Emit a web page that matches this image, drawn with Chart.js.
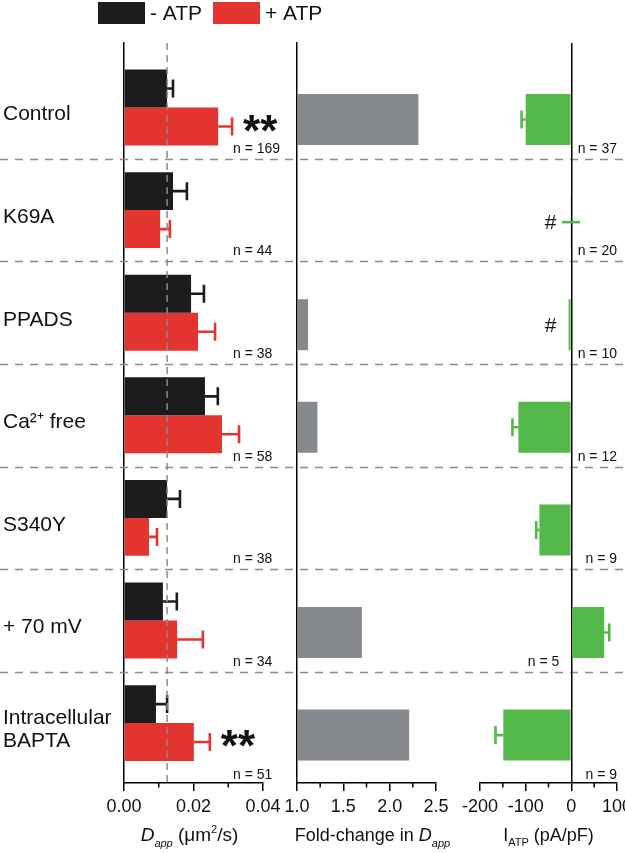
<!DOCTYPE html>
<html>
<head>
<meta charset="utf-8">
<script src="https://cdn.jsdelivr.net/npm/chart.js@4.4.0/dist/chart.umd.min.js"></script>
<style>
  html, body { margin: 0; padding: 0; background: #fff; }
  #wrap { position: relative; width: 625px; height: 853px; }
  #wrap canvas { position: absolute; left: 0; top: 0; }
</style>
</head>
<body>
<div id="wrap">
  <canvas id="dapp" width="625" height="853"></canvas>
  <canvas id="fold" width="625" height="853"></canvas>
  <canvas id="iatp" width="625" height="853"></canvas>
</div>
<script>
// --- data ---
var categories = ['Control', 'K69A', 'PPADS', 'Ca\u00B2\u207A free', 'S340Y', '+ 70 mV', ['Intracellular', 'BAPTA']];
var minusATP = [0.0124, 0.0141, 0.0193, 0.0233, 0.0124, 0.0112, 0.0092];
var minusErr = [0.0017, 0.0040, 0.0037, 0.0037, 0.0037, 0.0040, 0.0032];
var plusATP  = [0.0271, 0.0104, 0.0213, 0.0282, 0.0072, 0.0153, 0.0201];
var plusErr  = [0.0040, 0.0028, 0.0049, 0.0049, 0.0023, 0.0074, 0.0046];
var foldChange = [2.31, null, 1.12, 1.22, null, 1.70, 2.21];
var iATP    = [-100, -1, -6, -116, -70, 72, -149];
var iATPErr = [9, 20, 0, 13, 7, 11, 17];
var nDapp = ['n = 169', 'n = 44', 'n = 38', 'n = 58', 'n = 38', 'n = 34', 'n = 51'];
var nIatp = ['n = 37', 'n = 20', 'n = 10', 'n = 12', 'n = 9', 'n = 5', 'n = 9'];
var starsDapp = ['**', '', '', '', '', '', '**'];
var marksIatp = ['', '#', '#', '', '', '', ''];
var dappTicks = [0, 0.01, 0.02, 0.03, 0.04];
var foldTicks = [1, 1.25, 1.5, 1.75, 2, 2.25, 2.5];
var iatpTicks = [-200, -150, -100, -50, 0, 50, 100];

var FONT = "'Liberation Sans', Arial, Helvetica, sans-serif";
Chart.defaults.font.family = FONT;
Chart.defaults.color = '#111';

function pts(vals) {
  return vals.map(function (v, i) { return { x: v, y: i }; });
}

// shared vertical (category) axis: linear so the rows line up on all three canvases
function rowAxis(showLabels, showBorder) {
  return {
    type: 'linear', reverse: true, offset: false, min: -0.629, max: 6.584,
    afterBuildTicks: function (s) { s.ticks = categories.map(function (c, i) { return { value: i }; }); },
    afterFit: function (s) { s.width = showLabels ? 121 : 0; s.paddingTop = 0; s.paddingBottom = 0; },
    ticks: {
      display: showLabels, autoSkip: false, crossAlign: 'far', labelOffset: 7, padding: 0,
      font: { size: 21, lineHeight: 1.1 }, color: '#111',
      callback: function (v) { return categories[v]; }
    },
    grid: { display: false, offset: false },
    border: { display: showBorder, color: '#000', width: 1.5 }
  };
}

function valueAxis(min, max, tickVals, digits, zeroLine) {
  return {
    min: min, max: max,
    afterBuildTicks: function (s) { s.ticks = tickVals.map(function (v) { return { value: v }; }); },
    afterFit: function (s) { s.height = 70; s.paddingLeft = 0; s.paddingRight = 0; },
    ticks: {
      autoSkip: false, maxRotation: 0, padding: 5, font: { size: 18 }, color: '#111',
      callback: function (v, i) { return i % 2 === 0 ? v.toFixed(digits) : ''; }
    },
    grid: {
      drawOnChartArea: !!zeroLine, tickLength: 8, tickWidth: 1.5, lineWidth: 1.5,
      color: function (c) { return zeroLine && c.tick && c.tick.value === 0 ? '#000' : 'rgba(0,0,0,0)'; },
      tickColor: function (c) { return c.index % 2 === 0 ? '#000' : 'rgba(0,0,0,0)'; }
    },
    border: { color: '#000', width: 1.5 }
  };
}

function minorTicks(chart) {
  var ctx = chart.ctx, xs = chart.scales.x, b = chart.chartArea.bottom;
  ctx.save();
  ctx.strokeStyle = '#000'; ctx.lineWidth = 1.5;
  xs.ticks.forEach(function (t, i) {
    if (i % 2 === 0) return;
    var x = xs.getPixelForValue(t.value);
    ctx.beginPath(); ctx.moveTo(x, b); ctx.lineTo(x, b + 4.5); ctx.stroke();
  });
  ctx.restore();
}

function errorBars(chart, di, errs, color) {
  var ctx = chart.ctx, xs = chart.scales.x;
  var meta = chart.getDatasetMeta(di);
  var vals = chart.data.datasets[di].data;
  ctx.save();
  ctx.strokeStyle = color; ctx.lineWidth = 2.6;
  meta.data.forEach(function (bar, i) {
    var v = vals[i].x, e = errs[i];
    if (v === null || !e) return;
    var sign = v < 0 ? -1 : 1;
    var x1 = xs.getPixelForValue(v + sign * e);
    var x0 = xs.getPixelForValue(v), cap = true;
    if (e > Math.abs(v)) { x0 = xs.getPixelForValue(v - sign * e); cap = false; }
    ctx.beginPath();
    ctx.moveTo(x0, bar.y); ctx.lineTo(x1, bar.y);
    if (cap) { ctx.moveTo(x1, bar.y - 9); ctx.lineTo(x1, bar.y + 9); }
    ctx.stroke();
  });
  ctx.restore();
}

function richText(ctx, parts, cx, y) {
  var w = 0;
  parts.forEach(function (p) { ctx.font = p.f; p.w = ctx.measureText(p.t).width; w += p.w; });
  var x = cx - w / 2;
  ctx.textAlign = 'left'; ctx.textBaseline = 'alphabetic'; ctx.fillStyle = '#111';
  parts.forEach(function (p) { ctx.font = p.f; ctx.fillText(p.t, x, y + (p.dy || 0)); x += p.w; });
}

function rowBottom(chart, i) {
  if (i === categories.length - 1) return chart.chartArea.bottom + 2;
  return chart.scales.y.getPixelForValue(i + 0.5);
}

// ---------- left panel: D_app ----------
var dappPlugin = {
  id: 'dappExtras',
  beforeDatasetsDraw: function (chart) {
    var ctx = chart.ctx, ys = chart.scales.y;
    ctx.save();
    ctx.strokeStyle = '#8a8a8a'; ctx.lineWidth = 1.5; ctx.setLineDash([8, 7]);
    for (var i = 0; i < categories.length - 1; i++) {
      var y = Math.round(ys.getPixelForValue(i + 0.5)) + 0.5;
      ctx.beginPath(); ctx.moveTo(0, y); ctx.lineTo(chart.width, y); ctx.stroke();
    }
    ctx.restore();
  },
  afterDatasetsDraw: function (chart) {
    var ctx = chart.ctx, xs = chart.scales.x, area = chart.chartArea;
    errorBars(chart, 0, minusErr, '#1c1c1c');
    errorBars(chart, 1, plusErr, '#e3342f');

    // reference line at the control -ATP value
    var xr = xs.getPixelForValue(minusATP[0]);
    ctx.save();
    ctx.strokeStyle = '#8a8a8a'; ctx.lineWidth = 1.5; ctx.setLineDash([7, 5]);
    ctx.beginPath(); ctx.moveTo(xr, area.top); ctx.lineTo(xr, area.bottom); ctx.stroke();
    ctx.restore();

    minorTicks(chart);

    ctx.save();
    ctx.fillStyle = '#111';
    ctx.font = '14px ' + FONT; ctx.textAlign = 'left'; ctx.textBaseline = 'alphabetic';
    nDapp.forEach(function (t, i) { ctx.fillText(t, 233, rowBottom(chart, i) - 6); });

    var red = chart.getDatasetMeta(1).data;
    ctx.font = 'bold 44px ' + FONT;
    starsDapp.forEach(function (s, i) {
      if (!s) return;
      ctx.fillText(s, xs.getPixelForValue(plusATP[i] + plusErr[i]) + 11, red[i].y + 19);
    });
    ctx.restore();
  },
  afterDraw: function (chart) {
    var ctx = chart.ctx;
    ctx.save();
    // legend
    var ds = chart.data.datasets, lx = [98, 213];
    ctx.font = '21px ' + FONT; ctx.textBaseline = 'middle'; ctx.textAlign = 'left';
    ds.forEach(function (d, i) {
      ctx.fillStyle = d.backgroundColor;
      ctx.fillRect(lx[i], 2, 47, 22);
      ctx.fillStyle = '#111';
      ctx.fillText(d.label, lx[i] + 52, 14);
    });
    ctx.restore();
    var a = chart.chartArea;
    richText(ctx, [
      { t: 'D', f: 'italic 19px ' + FONT },
      { t: 'app', f: 'italic 11px ' + FONT, dy: 6 },
      { t: ' (\u03BCm', f: '19px ' + FONT },
      { t: '2', f: '11px ' + FONT, dy: -8 },
      { t: '/s)', f: '19px ' + FONT }
    ], (a.left + a.right) / 2 - 4, 841);
  }
};

new Chart(document.getElementById('dapp'), {
  type: 'bar',
  data: {
    datasets: [
      { label: '- ATP', data: pts(minusATP), backgroundColor: '#1c1c1c' },
      { label: '+ ATP', data: pts(plusATP), backgroundColor: '#e3342f' }
    ]
  },
  options: {
    indexAxis: 'y', responsive: false, animation: false,
    categoryPercentage: 0.74, barPercentage: 1.0,
    layout: { padding: { left: 3, right: 362, top: 43, bottom: 0 } },
    plugins: { legend: { display: false }, tooltip: { enabled: false } },
    scales: { x: valueAxis(0, 0.04, dappTicks, 2, false), y: rowAxis(true, true) }
  },
  plugins: [dappPlugin]
});

// ---------- middle panel: fold-change ----------
new Chart(document.getElementById('fold'), {
  type: 'bar',
  data: {
    datasets: [
      { label: '', data: pts(foldChange.map(function () { return null; })), backgroundColor: 'rgba(0,0,0,0)' },
      { label: 'Fold-change', data: pts(foldChange), backgroundColor: '#85888c', base: 1 }
    ]
  },
  options: {
    indexAxis: 'y', responsive: false, animation: false,
    categoryPercentage: 0.468, barPercentage: 2.125,
    layout: { padding: { left: 297, right: 189, top: 43, bottom: 0 } },
    plugins: { legend: { display: false }, tooltip: { enabled: false } },
    scales: { x: valueAxis(1, 2.5, foldTicks, 1, false), y: rowAxis(false, true) }
  },
  plugins: [{
    id: 'foldExtras',
    afterDraw: function (chart) {
      minorTicks(chart);
      var a = chart.chartArea;
      richText(chart.ctx, [
        { t: 'Fold-change in ', f: '18px ' + FONT },
        { t: 'D', f: 'italic 18px ' + FONT },
        { t: 'app', f: 'italic 11px ' + FONT, dy: 6 }
      ], (a.left + a.right) / 2 + 6, 841);
    }
  }]
});

// ---------- right panel: I_ATP ----------
new Chart(document.getElementById('iatp'), {
  type: 'bar',
  data: {
    datasets: [
      { label: '', data: pts(iATP.map(function () { return null; })), backgroundColor: 'rgba(0,0,0,0)' },
      { label: 'I ATP', data: pts(iATP), backgroundColor: '#55b84a' }
    ]
  },
  options: {
    indexAxis: 'y', responsive: false, animation: false,
    categoryPercentage: 0.468, barPercentage: 2.125,
    layout: { padding: { left: 480, right: 8, top: 43, bottom: 0 } },
    plugins: { legend: { display: false }, tooltip: { enabled: false } },
    scales: { x: valueAxis(-200, 100, iatpTicks, 0, true), y: rowAxis(false, false) }
  },
  plugins: [{
    id: 'iatpExtras',
    afterDatasetsDraw: function (chart) {
      var ctx = chart.ctx, xs = chart.scales.x, a = chart.chartArea;
      errorBars(chart, 1, iATPErr, '#55b84a');
      var zero = xs.getPixelForValue(0);
      var bars = chart.getDatasetMeta(1).data;
      ctx.save();
      ctx.fillStyle = '#111';
      ctx.font = '21px ' + FONT; ctx.textAlign = 'right'; ctx.textBaseline = 'middle';
      marksIatp.forEach(function (m, i) { if (m) ctx.fillText(m, zero - 15, bars[i].y + 1); });
      ctx.font = '14px ' + FONT; ctx.textBaseline = 'alphabetic';
      nIatp.forEach(function (t, i) {
        var x = iATP[i] > 0 ? zero - 12 : a.right;
        ctx.fillText(t, x, rowBottom(chart, i) - 6);
      });
      ctx.restore();
      minorTicks(chart);
    },
    afterDraw: function (chart) {
      var a = chart.chartArea;
      richText(chart.ctx, [
        { t: 'I', f: '18px ' + FONT },
        { t: 'ATP', f: '11px ' + FONT, dy: 5 },
        { t: ' (pA/pF)', f: '18px ' + FONT }
      ], (a.left + a.right) / 2, 841);
    }
  }]
});
</script>
</body>
</html>
